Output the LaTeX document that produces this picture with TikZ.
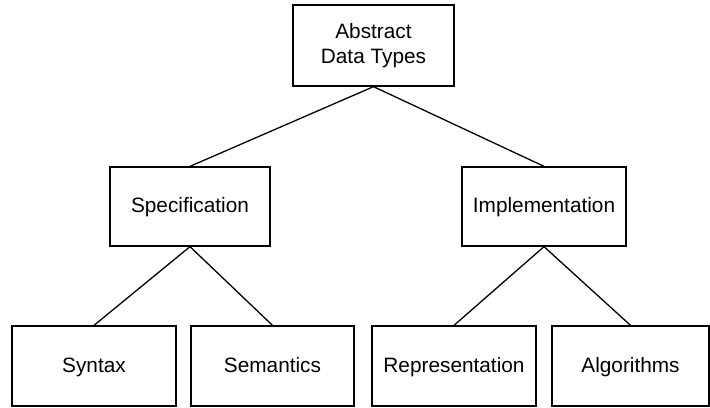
\documentclass[tikz,border=0pt]{standalone}
\usepackage{fontspec}
\setmainfont{Liberation Sans}
\begin{document}
\begin{tikzpicture}[x=0.5pt,y=-0.5pt,line width=0.65pt,
  box/.style={draw,minimum width=82pt,minimum height=40pt,align=center,
    font=\fontsize{10.4}{12.5}\selectfont},
  oneline/.style={box,text height=0.72em,text depth=0.1em}]
\useasboundingbox (0,0) rectangle (710,407);
\node[box,minimum width=80.5pt,minimum height=40.5pt] (adt) at (373.5,45.5) {Abstract\\Data Types};
\node[oneline,minimum width=80pt,minimum height=39.5pt] (spec) at (190,206.5) {Specification};
\node[oneline,minimum height=39.5pt] (impl) at (544,206.5) {Implementation};
\node[oneline] (syn) at (94,366) {Syntax};
\node[oneline,minimum width=81.5pt] (sem) at (272.5,366) {Semantics};
\node[oneline] (rep) at (454,366) {Representation};
\node[oneline,minimum width=78.5pt] (alg) at (630.5,366) {Algorithms};
\draw (adt.south) -- (spec.north);
\draw (adt.south) -- (impl.north);
\draw (spec.south) -- (syn.north);
\draw (spec.south) -- (sem.north);
\draw (impl.south) -- (rep.north);
\draw (impl.south) -- (alg.north);
\end{tikzpicture}
\end{document}
